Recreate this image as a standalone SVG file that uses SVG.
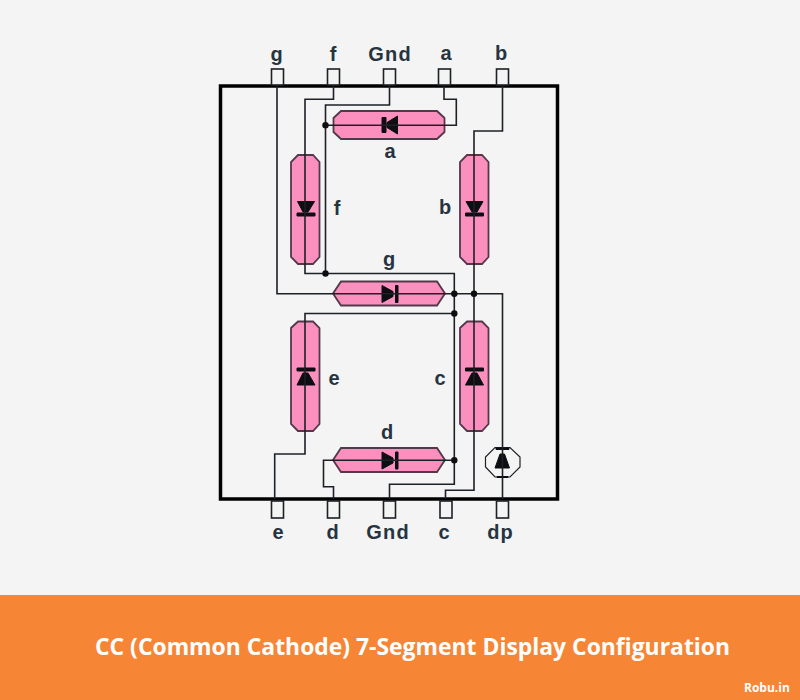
<svg xmlns="http://www.w3.org/2000/svg" width="800" height="700" viewBox="0 0 800 700">
<style>
.w{fill:none;stroke:#1c2126;stroke-width:1.6}
.pin{fill:#f4f4f4;stroke:#1c2126;stroke-width:1.6}
.seg{fill:#fb90bf;stroke:#53384a;stroke-width:1.8}
.d{fill:#0d0d12;stroke:#0d0d12;stroke-width:1;stroke-linejoin:round}
.dot{fill:#0d0d12}
.t{font-family:"Liberation Sans",Arial,sans-serif;font-size:20px;font-weight:700;fill:#26343f;text-anchor:middle}
.b{font-family:"Open Sans",sans-serif;font-weight:700;fill:#fff}
</style>
<rect width="800" height="700" fill="#f4f4f4"/>
<rect y="595" width="800" height="105" fill="#f68635"/>
<g id="package"><rect x="220.500" y="86" width="337" height="413" fill="none" stroke="#000" stroke-width="3.500"/></g>
<g id="pins">
<rect class="pin" x="271.500" y="69" width="12" height="16"/>
<rect class="pin" x="327.500" y="69" width="12" height="16"/>
<rect class="pin" x="383.500" y="69" width="12" height="16"/>
<rect class="pin" x="438.500" y="69" width="12" height="16"/>
<rect class="pin" x="496.500" y="69" width="12" height="16"/>
<rect class="pin" x="271.500" y="501" width="12" height="17"/>
<rect class="pin" x="327.500" y="501" width="12" height="17"/>
<rect class="pin" x="383.500" y="501" width="12" height="17"/>
<rect class="pin" x="440" y="501" width="12" height="17"/>
<rect class="pin" x="496.500" y="501" width="12" height="17"/>
</g>
<g id="seg-a"><polygon class="seg" points="341,111 437,111 444.500,118 444.500,132 437,139 341,139 333.500,132 333.500,118"/><polygon class="d" points="397.500,116 397.500,134 387,127.500 387,122.500"/><rect class="d" x="382" y="117.500" width="4" height="15"/><text class="t" x="390" y="158">a</text></g>
<g id="seg-f"><polygon class="seg" points="298,155 313,155 319.500,162 319.500,257 313,264 298,264 291,257 291,162"/><polygon class="d" points="297.500,201.500 314.500,201.500 308,212 303,212"/><rect class="d" x="297" y="213" width="18" height="3"/><text class="t" x="337" y="215">f</text></g>
<g id="seg-b"><polygon class="seg" points="467,155 482,155 488.500,162 488.500,257 482,264 467,264 460,257 460,162"/><polygon class="d" points="466,201.500 483,201.500 477,212 472,212"/><rect class="d" x="465.500" y="213" width="18" height="3"/><text class="t" x="445" y="214">b</text></g>
<g id="seg-g"><polygon class="seg" points="341,281.500 437,281.500 445,293.500 437,305.500 341,305.500 333,293.500"/><polygon class="d" points="382,285.500 382,302.500 393,296.500 393,291.500"/><rect class="d" x="395.500" y="285.500" width="2.500" height="17"/><text class="t" x="389" y="266">g</text></g>
<g id="seg-e"><polygon class="seg" points="298,321.500 313,321.500 319.500,328 319.500,424 313,431 298,431 291,424 291,328"/><polygon class="d" points="297,385 315,385 308,373 303,373"/><rect class="d" x="297" y="368" width="18" height="3"/><text class="t" x="334" y="385">e</text></g>
<g id="seg-c"><polygon class="seg" points="467,321.500 482,321.500 488.500,328 488.500,424 482,431 467,431 460,424 460,328"/><polygon class="d" points="465.500,385 483.500,385 477,373 472,373"/><rect class="d" x="465.500" y="368" width="18" height="3"/><text class="t" x="440" y="385">c</text></g>
<g id="seg-d"><polygon class="seg" points="341,448 437,448 445,460 437,472 341,472 333,460"/><polygon class="d" points="382,452 382,469 393,463 393,458"/><rect class="d" x="395.500" y="452" width="2.500" height="17"/><text class="t" x="387" y="439">d</text></g>
<g id="seg-dp"><polygon points="495,447.500 510,447.500 520,457 520,467 510,477 495,477 485.500,467 485.500,457" fill="none" stroke="#1c2126" stroke-width="1.200"/><polygon class="d" points="495,468 509.500,468 504.500,454 500,454"/><rect class="d" x="496" y="448" width="13" height="1.500"/><rect class="d" x="497" y="476.500" width="11" height="1"/></g>
<g id="connectors">
<path class="w" d="M277 86V293.700H454"/>
<path class="w" d="M333.500 86V99.300H305V273.500H454.300V484.300H389.500V499"/>
<path class="w" d="M389.500 86V105H325.500V273.500"/>
<path class="w" d="M444 86V99.300H456.300V125.300H325.500"/>
<path class="w" d="M502.500 86V131H474V490.300H445.500V499"/>
<path class="w" d="M454.300 313.500H305V454H274.700V499"/>
<path class="w" d="M454.300 460.300H323.500V486.700H333.500V499"/>
<path class="w" d="M454 293.700H502.500V499"/>
<circle class="dot" cx="325.500" cy="125.300" r="3.200"/>
<circle class="dot" cx="325.500" cy="273.500" r="3.200"/>
<circle class="dot" cx="454.300" cy="293.700" r="3.200"/>
<circle class="dot" cx="474" cy="293.700" r="3.200"/>
<circle class="dot" cx="454.300" cy="313.500" r="3.200"/>
<circle class="dot" cx="454.300" cy="460.300" r="3.200"/>
</g>
<g id="labels">
<text class="t" x="276.500" y="61">g</text>
<text class="t" x="333" y="61">f</text>
<text class="t" x="390" y="61" letter-spacing="1.200">Gnd</text>
<text class="t" x="446" y="60">a</text>
<text class="t" x="501" y="60">b</text>
<text class="t" x="278" y="539">e</text>
<text class="t" x="332.500" y="539">d</text>
<text class="t" x="388" y="539" letter-spacing="1.200">Gnd</text>
<text class="t" x="444" y="539">c</text>
<text class="t" x="500.500" y="539" letter-spacing="1">dp</text>
</g>
<text class="b" x="95" y="655" font-size="22.900">CC (Common Cathode) 7-Segment Display Configuration</text>
<text class="b" x="744" y="692" font-size="12">Robu.in</text>
</svg>
